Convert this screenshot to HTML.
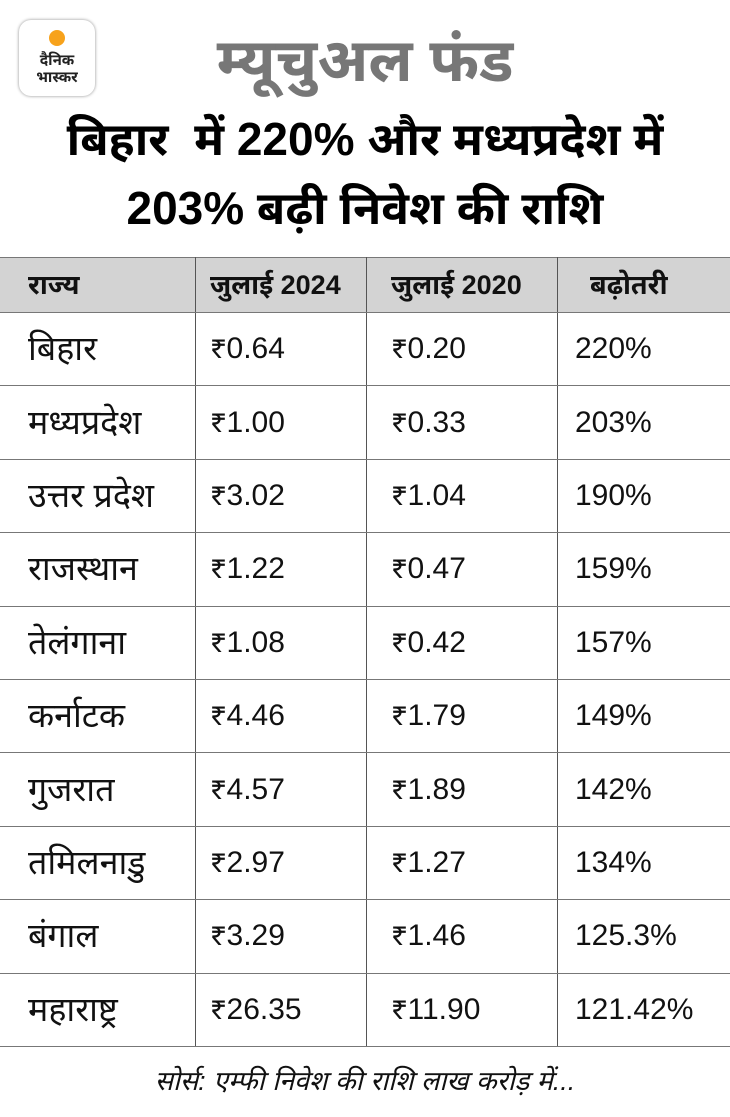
<!DOCTYPE html>
<html><head><meta charset="utf-8"><style>
body{margin:0;width:730px;height:1117px;background:#fff;position:relative;overflow:hidden;font-family:"Liberation Sans","Noto Sans Devanagari","Lohit Devanagari",sans-serif;}
.logo{position:absolute;left:19px;top:20px;width:76px;height:76px;border-radius:12px;background:#fff;box-shadow:0 0 3px rgba(0,0,0,.45);}
.logo .dot{position:absolute;left:30px;top:10px;width:16px;height:16px;border-radius:50%;background:#f7a21b;}
.logo .t{position:absolute;left:0;width:76px;text-align:center;font-weight:bold;font-size:15px;line-height:16px;color:#222;}
.title{position:absolute;left:0;width:730px;text-align:center;font-weight:bold;}
table{position:absolute;left:0;top:257px;width:730px;border-collapse:collapse;}
td{border:1.5px solid #777;border-left:1px solid #555;border-right:1px solid #555;height:72.4px;font-size:30px;line-height:32px;padding:0;color:#111;vertical-align:middle;}
td div{height:32px;overflow:visible;white-space:nowrap}
tr.h td{background:#d3d3d3;height:54px;font-weight:bold;font-size:27px;}
td:first-child{border-left:none;padding-left:28px;width:167px;font-size:34px}
tr.h td:first-child{font-size:27px}
td:nth-child(2){padding-left:14px;width:156px}
td:nth-child(3){padding-left:24px;width:166px}
td:nth-child(4){padding-left:17px;border-right:none}
</style></head><body>
<div class="logo"><div class="dot"></div><div class="t" style="top:33px">दैनिक</div><div class="t" style="top:50px">भास्कर</div></div>
<div class="title" style="top:26px;font-size:60px;color:#777;">म्यूचुअल फंड</div>
<div class="title" style="top:112px;font-size:46px;color:#000;">बिहार &nbsp;में 220% और मध्यप्रदेश में</div>
<div class="title" style="top:181px;font-size:46px;color:#000;">203% बढ़ी निवेश की राशि</div>
<table>
<tr class="h"><td><div>राज्य</div></td><td><div>जुलाई 2024</div></td><td><div>जुलाई 2020</div></td><td style="padding-left:32px"><div>बढ़ोतरी</div></td></tr>
<tr><td><div>बिहार</div></td><td><div>₹0.64</div></td><td><div>₹0.20</div></td><td><div>220%</div></td></tr>
<tr><td><div>मध्यप्रदेश</div></td><td><div>₹1.00</div></td><td><div>₹0.33</div></td><td><div>203%</div></td></tr>
<tr><td><div>उत्तर प्रदेश</div></td><td><div>₹3.02</div></td><td><div>₹1.04</div></td><td><div>190%</div></td></tr>
<tr><td><div>राजस्थान</div></td><td><div>₹1.22</div></td><td><div>₹0.47</div></td><td><div>159%</div></td></tr>
<tr><td><div>तेलंगाना</div></td><td><div>₹1.08</div></td><td><div>₹0.42</div></td><td><div>157%</div></td></tr>
<tr><td><div>कर्नाटक</div></td><td><div>₹4.46</div></td><td><div>₹1.79</div></td><td><div>149%</div></td></tr>
<tr><td><div>गुजरात</div></td><td><div>₹4.57</div></td><td><div>₹1.89</div></td><td><div>142%</div></td></tr>
<tr><td><div>तमिलनाडु</div></td><td><div>₹2.97</div></td><td><div>₹1.27</div></td><td><div>134%</div></td></tr>
<tr><td><div>बंगाल</div></td><td><div>₹3.29</div></td><td><div>₹1.46</div></td><td><div>125.3%</div></td></tr>
<tr><td><div>महाराष्ट्र</div></td><td><div>₹26.35</div></td><td><div>₹11.90</div></td><td><div>121.42%</div></td></tr>
</table>
<div class="title" style="top:1066px;font-size:27px;font-weight:normal;font-style:italic;color:#111;">सोर्स: एम्फी निवेश की राशि लाख करोड़ में...</div>
</body></html>
